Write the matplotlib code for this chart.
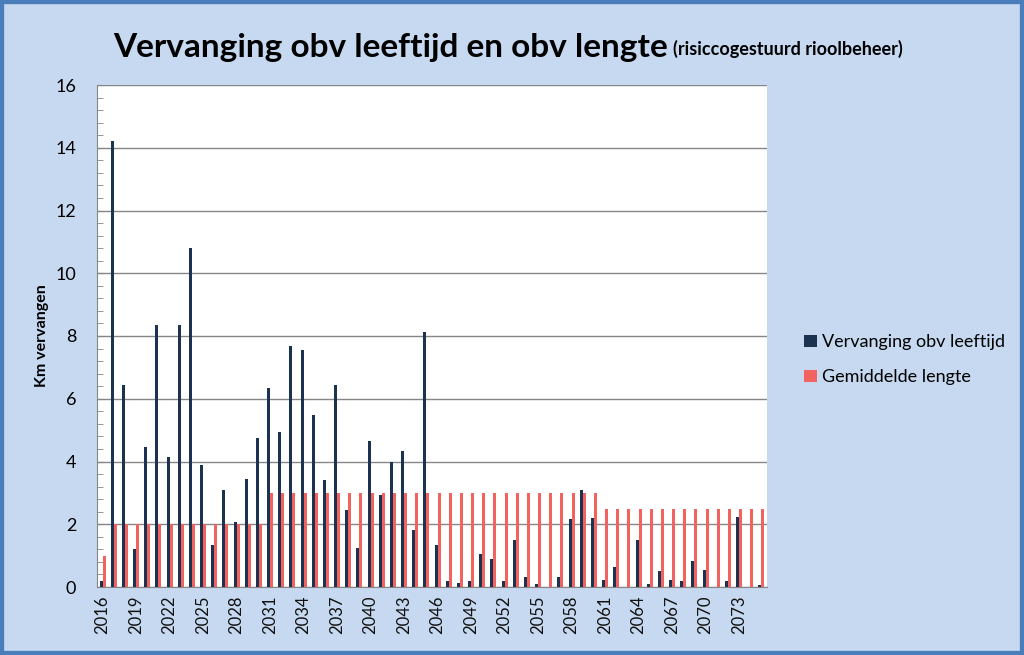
import matplotlib
matplotlib.use("Agg")
import matplotlib.pyplot as plt
import matplotlib.patches as mpatches
from matplotlib.ticker import MultipleLocator
import numpy as np

# JAREN 2016 - 2075
jaren = list(range(2016, 2076))

# VERVANGING OBV LEEFTIJD (km)
leeftijd = [0.2, 14.2, 6.45, 1.2, 4.45, 8.35, 4.15, 8.35, 10.8, 3.9,
            1.35, 3.1, 2.07, 3.45, 4.76, 6.33, 4.93, 7.67, 7.55, 5.48,
            3.41, 6.45, 2.46, 1.25, 4.66, 2.93, 3.99, 4.33, 1.82, 8.14,
            1.34, 0.19, 0.14, 0.19, 1.06, 0.88, 0.19, 1.49, 0.32, 0.09,
            0.0, 0.32, 2.18, 3.09, 2.21, 0.22, 0.65, 0.0, 1.49, 0.09,
            0.51, 0.23, 0.18, 0.82, 0.54, 0.0, 0.18, 2.24, 0.0, 0.05]

# GEMIDDELDE LENGTE (km)
gemiddeld = [1.0] + [2.0] * 14 + [3.0] * 30 + [2.5] * 15

kleur_leeftijd = '#1B3350'
kleur_gemiddeld = '#F2625F'
achtergrond = '#C6D9F0'

fig = plt.figure(figsize=(10.24, 6.55), dpi=100)
fig.patch.set_facecolor(achtergrond)
ax = fig.add_axes([97/1024, 68/655, 670/1024, 502/655])
ax.set_facecolor('white')

x = np.arange(len(jaren))
w = 0.27
ax.bar(x - w/2, leeftijd, width=w, color=kleur_leeftijd, label='Vervanging obv leeftijd', zorder=3)
ax.bar(x + w/2, gemiddeld, width=w, color=kleur_gemiddeld, label='Gemiddelde lengte', zorder=3)

ax.set_xlim(-0.5, len(jaren) - 0.5)
ax.set_ylim(0, 16)
ax.yaxis.set_major_locator(MultipleLocator(2))
ax.yaxis.set_minor_locator(MultipleLocator(0.4))
ax.grid(axis='y', which='major', color='#868686', linewidth=1, zorder=0)

ax.set_xticks(x[::3])
ax.set_xticklabels([str(j) for j in jaren[::3]], rotation=90, fontsize=12, family='Lato', color='#111111')
ax.tick_params(axis='x', length=0, pad=6)
ax.tick_params(axis='y', which='major', direction='in', length=5, color='#868686', pad=15, labelsize=13)
ax.tick_params(axis='y', which='minor', direction='in', length=4, color='#868686')
for lbl in ax.get_yticklabels():
    lbl.set_family('Lato')

for s in ['top', 'right']:
    ax.spines[s].set_visible(False)
ax.spines['left'].set_color('#868686')
ax.spines['bottom'].set_color('#868686')

ax.set_ylabel('Km vervangen', fontsize=11.5, fontweight='bold', family='Lato')
ax.yaxis.set_label_coords(-48/670, 0.5)

# LEGENDA
leg = fig.legend(loc='upper left', bbox_to_anchor=(788/1024, 1 - 318/655), frameon=False,
                 prop={'family': 'Lato', 'size': 13}, handlelength=0.7, handleheight=0.7,
                 handletextpad=0.3, labelspacing=1.05)

# TITEL
r = fig.canvas.get_renderer()
t1 = fig.text(113/1024, 1 - 57/655, 'Vervanging obv leeftijd en obv lengte', fontsize=24,
              fontweight='bold', family='Lato', ha='left', va='baseline')
bb = t1.get_window_extent(renderer=r)
fig.text((bb.x1 + 5) / 1024, 1 - 55/655, '(risiccogestuurd rioolbeheer)', fontsize=13,
         fontweight='bold', family='Lato', ha='left', va='baseline')

# RAND
fig.patches.append(mpatches.Rectangle((0, 0), 1, 1, transform=fig.transFigure, fill=False,
                                      edgecolor='#4A7EBB', linewidth=6))

fig.savefig('out.png', dpi=100, facecolor=fig.get_facecolor())
